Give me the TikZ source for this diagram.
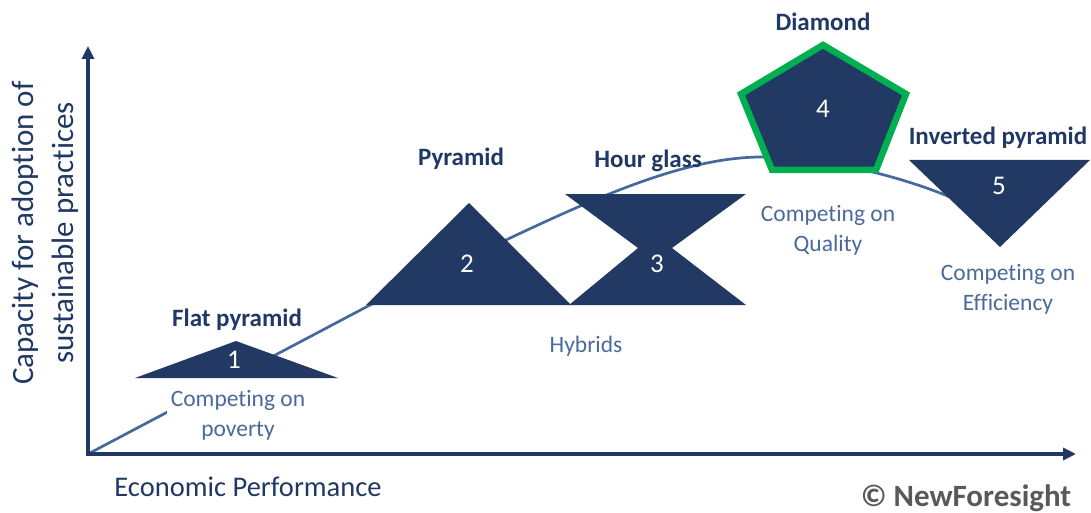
\documentclass[tikz,border=0pt]{standalone}
\usepackage{fontspec}
\setmainfont{Carlito}[Ligatures=NoCommon]
\usetikzlibrary{arrows.meta}
\definecolor{navy}{HTML}{223A63}
\definecolor{axisblue}{HTML}{1F3864}
\definecolor{curveblue}{HTML}{46699C}
\definecolor{capblue}{HTML}{4A6A9A}
\definecolor{leafgreen}{HTML}{00B050}
\definecolor{creditgray}{HTML}{595959}
\begin{document}
\begin{tikzpicture}[x=1pt,y=-1pt,
  title/.style={font=\fontsize{25}{30}\selectfont\bfseries, text=axisblue, inner sep=0pt},
  caption/.style={font=\fontsize{23.5}{30}\selectfont, text=capblue, align=center, inner sep=1pt},
  num/.style={font=\fontsize{27}{30}\selectfont, text=white, inner sep=0pt},
  stage/.style={fill=navy},
  axisline/.style={draw=axisblue, line width=3.5pt, -{Triangle[length=13pt,width=12pt]}},
  trend/.style={draw=curveblue, line width=2.7pt}]
\useasboundingbox (0,0) rectangle (1091,513);

\coordinate (o) at (88,454);
\coordinate (ytop) at (88,46);
\coordinate (xend) at (1076,454);

% trend curve through the stages
\coordinate (c1) at (370,305);
\coordinate (c2) at (760,157);
\coordinate (c3) at (950,197);
\draw[trend] (o) -- (c1) .. controls (540,225) and (660,158) .. (c2)
  .. controls (820,156) and (900,176) .. (c3);

% caption with a white box that masks the curve
\node[caption, fill=white, inner xsep=4pt, inner ysep=13pt] (k1) at (238,415) {Competing on\\poverty};

% 1: flat pyramid
\fill[stage] (135,378) -- (236,341) -- (338,378) -- cycle;
% 2: pyramid
\fill[stage] (366,305) -- (469,203) -- (571,305) -- cycle;
% 3: hour glass
\fill[stage] (565,194) -- (746,194) -- (672,248) -- (746,305) -- (569,305) -- (638,248) -- cycle;
% 4: diamond
\filldraw[fill=navy, draw=leafgreen, line width=6.5pt, miter limit=10]
  (823,45) -- (906,94) -- (876,170) -- (772,170) -- (741,94) -- cycle;
% 5: inverted pyramid
\fill[stage] (909,160) -- (1090,160) -- (1000,247) -- cycle;

% stage numbers
\node[num] (n1) at (234,360) {1};
\node[num] (n2) at (467,264) {2};
\node[num] (n3) at (657,264) {3};
\node[num] (n4) at (823,109) {4};
\node[num] (n5) at (999,186) {5};

% stage names
\node[title] (t1) at (237,320) {Flat pyramid};
\node[title] (t2) at (461,159) {Pyramid};
\node[title] (t3) at (648,161) {Hour glass};
\node[title] (t4) at (823,22) {Diamond};
\node[title] (t5) at (998,138) {Inverted pyramid};

% other captions
\node[caption] (k2) at (586,346) {Hybrids};
\node[caption] (k4) at (828,230) {Competing on\\Quality};
\node[caption] (k5) at (1008,289) {Competing on\\Efficiency};

% axes, on top
\draw[axisline] ([yshift=-1.75pt]o) -- (ytop);
\draw[axisline] ([xshift=-1.75pt]o) -- (xend);

% axis labels
\node[font=\fontsize{28.5}{32}\selectfont, text=axisblue] (xl) at (248,487) {Economic Performance};
\node[font=\fontsize{31}{40}\selectfont, text=axisblue, align=center, rotate=90] (yl) at (45,233)
  {Capacity for adoption of\\sustainable practices};

% credit
\node[font=\fontsize{31}{34}\selectfont\bfseries, text=creditgray] (cr) at (966,498) {© NewForesight};
\end{tikzpicture}
\end{document}
